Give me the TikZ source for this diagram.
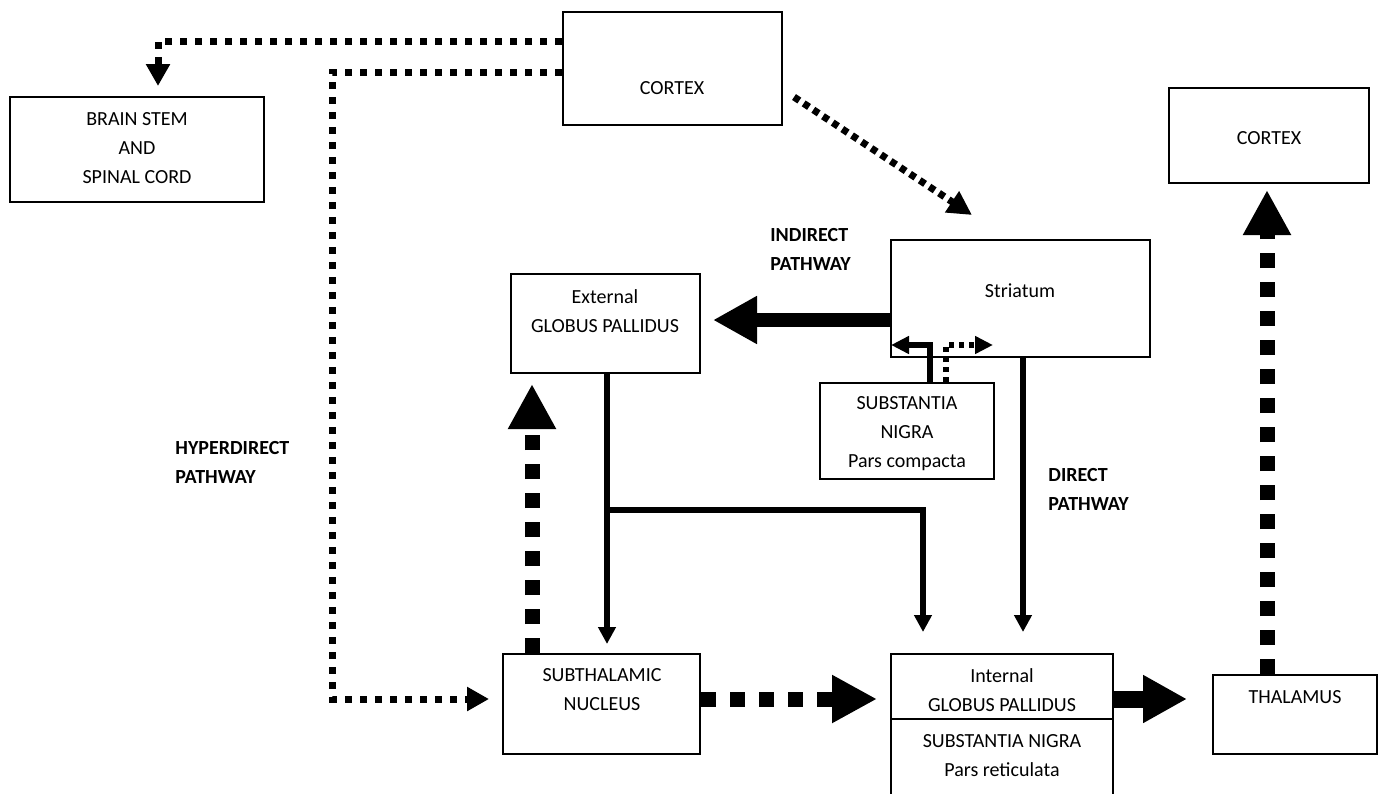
\documentclass[tikz,border=0pt]{standalone}
\usepackage{fontspec}
\setmainfont{Carlito}
\usetikzlibrary{arrows.meta}
\begin{document}
\begin{tikzpicture}[x=0.5pt,y=-0.5pt,
  box/.style={draw,line width=1pt,inner sep=0pt},
  txt/.style={align=center,font=\fontsize{10}{14.5}\selectfont,inner sep=0pt},
  lbl/.style={align=left,anchor=west,font=\bfseries\fontsize{10}{14.5}\selectfont,inner sep=0pt},
  hyp/.style={line width=3.5pt,dash pattern=on 3.5pt off 4pt,-{Triangle[length=11pt,width=11.5pt]}},
  diag/.style={line width=3.5pt,dash pattern=on 3.2pt off 2.6pt,-{Triangle[length=12pt,width=12pt]}},
  bigdot/.style={line width=7.5pt,dash pattern=on 7.5pt off 7pt,-{Triangle[length=22.5pt,width=22.5pt]}},
  bigarr/.style={line width=7pt,-{Triangle[length=22pt,width=22.5pt]}},
  thinarr/.style={line width=2.6pt,-{Triangle[length=8.5pt,width=8.5pt]}},
  smalldot/.style={line width=2.6pt,dash pattern=on 2.6pt off 2.4pt,-{Triangle[length=9pt,width=8.5pt]}},
  smallarr/.style={line width=2.6pt,-{Triangle[length=9pt,width=8.5pt]}}
]
\useasboundingbox (0,0) rectangle (1382,793);

% boxes
\node[box,minimum width=109.5pt,minimum height=56.5pt] (ctx1) at (672.5,68.5) {};
\node[box,minimum width=127pt,minimum height=52.5pt] (bs) at (137,149.5) {};
\node[box,minimum width=100pt,minimum height=47.5pt] (ctx2) at (1269,135.5) {};
\node[box,minimum width=129.5pt,minimum height=58.5pt] (str) at (1020.5,298.5) {};
\node[box,minimum width=94.5pt,minimum height=49.5pt] (gpe) at (605.5,323.5) {};
\node[box,minimum width=87pt,minimum height=48pt] (snc) at (907,431) {};
\node[box,minimum width=98.5pt,minimum height=50pt] (stn) at (601.5,704) {};
\node[box,minimum width=111pt,minimum height=78pt] (gpi) at (1002,732) {};
\node[box,minimum width=82pt,minimum height=39.5pt] (thal) at (1295,714.5) {};
\coordinate (dv) at (0,719);
\draw[line width=1pt] (gpi.west |- dv) -- (gpi.east |- dv);

% texts
\node[txt] (tctx1) at (672,88) {CORTEX};
\node[txt] (tbs) at (137,148) {BRAIN STEM\\AND\\SPINAL CORD};
\node[txt] (tctx2) at (1269,138) {CORTEX};
\node[txt] (tstr) at (1020,291) {Striatum};
\node[txt] (tgpe) at (605,311) {External\\GLOBUS PALLIDUS};
\node[txt] (tsnc) at (907,434) {SUBSTANTIA\\NIGRA\\Pars compacta};
\node[txt] (tstn) at (602,690) {SUBTHALAMIC\\NUCLEUS};
\node[txt] (tgpi1) at (1002,690) {Internal\\GLOBUS PALLIDUS};
\node[txt] (tgpi2) at (1002,756) {SUBSTANTIA NIGRA\\Pars reticulata};
\node[txt] (tthal) at (1295,697) {THALAMUS};

% labels
\node[lbl] (lind) at (770,249) {INDIRECT\\PATHWAY};
\node[lbl] (ldir) at (1048,489) {DIRECT\\PATHWAY};
\node[lbl] (lhyp) at (175,462) {HYPERDIRECT\\PATHWAY};

% coordinates
\coordinate (h1) at (158,41);
\coordinate (h2) at (332,72);
\coordinate (h3) at (332,699);
\coordinate (d1) at (794,97);
\coordinate (d2) at (972,215);
\coordinate (y320) at (0,320);
\coordinate (sa) at (930,345);
\coordinate (sb) at (946,345);
\coordinate (se) at (993,345);
\coordinate (g1) at (607,0);
\coordinate (b1) at (607,510);
\coordinate (b2) at (923,510);
\coordinate (c1) at (1023,0);
\coordinate (u1) at (532,0);
\coordinate (t1) at (1267,0);

% connectors
\draw[hyp,shorten >=5pt] (ctx1.west |- h1) -| (bs.north -| h1);
\draw[hyp,shorten >=6.5pt] (ctx1.west |- h2) -| (h3) -- (stn.west |- h3);
\draw[diag] (d1) -- (d2);
\draw[bigarr,shorten >=6pt] (str.west |- y320) -- (gpe.east |- y320);
\draw[smallarr,shorten >=0.5pt] (snc.north -| sa) |- (str.west |- sa);
\draw[smalldot] (snc.north -| sb) |- (se);
\draw[thinarr,shorten >=4.5pt] (gpe.south -| g1) -- (stn.north -| g1);
\draw[thinarr,shorten >=10.5pt] (b1) -| (gpi.north -| b2);
\draw[thinarr,shorten >=10.5pt] (str.south -| c1) -- (gpi.north -| c1);
\draw[bigdot,shorten >=5pt] (stn.north -| u1) -- (gpe.south -| u1);
\draw[bigdot,shorten >=6.5pt] (stn.east |- h3) -- (gpi.west |- h3);
\draw[bigarr,line width=8.5pt,shorten >=12.5pt] (gpi.east |- h3) -- (thal.west |- h3);
\draw[bigdot,shorten >=3pt] (thal.north -| t1) -- (ctx2.south -| t1);
\end{tikzpicture}
\end{document}
